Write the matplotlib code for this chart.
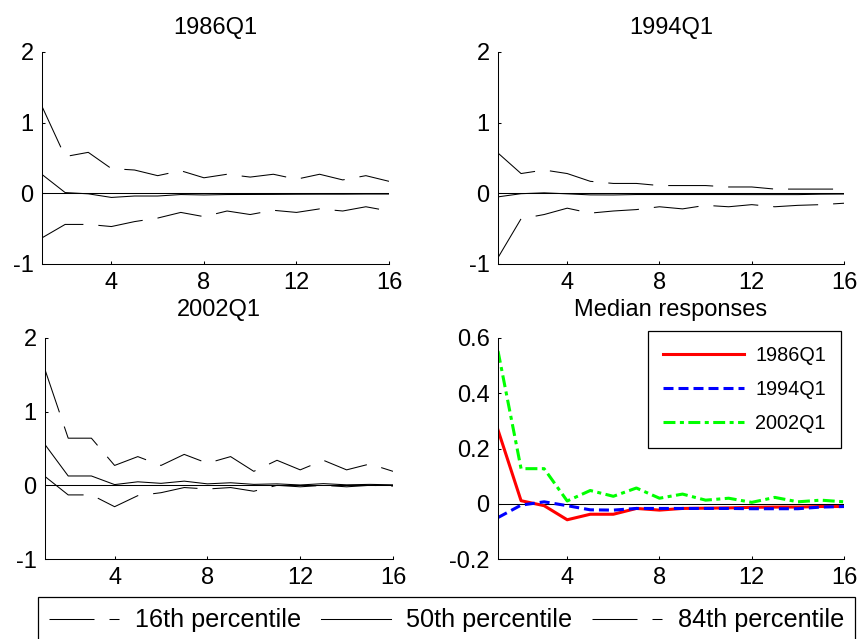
import matplotlib
matplotlib.use("Agg")
import matplotlib.pyplot as plt
from matplotlib.lines import Line2D
from matplotlib.ticker import FuncFormatter

plt.rcParams['font.family'] = ['Liberation Sans', 'DejaVu Sans']
plt.rcParams['axes.unicode_minus'] = False
plt.rcParams['lines.scale_dashes'] = False

# ---------------- data ----------------
horizon = list(range(1, 17))

upper_1986 = [1.23, 0.52, 0.58, 0.35, 0.33, 0.25, 0.32, 0.22, 0.27, 0.23, 0.27, 0.20, 0.27, 0.19, 0.25, 0.17]
lower_1986 = [-0.63, -0.44, -0.44, -0.47, -0.40, -0.35, -0.27, -0.33, -0.25, -0.30, -0.24, -0.27, -0.22, -0.25, -0.19, -0.25]
median_1986 = [0.267, 0.011, -0.007, -0.058, -0.038, -0.038, -0.017, -0.023, -0.017, -0.016, -0.015, -0.013, -0.012, -0.012, -0.010, -0.010]

upper_1994 = [0.57, 0.28, 0.33, 0.28, 0.17, 0.14, 0.14, 0.11, 0.11, 0.11, 0.09, 0.09, 0.06, 0.06, 0.06, 0.06]
lower_1994 = [-0.91, -0.36, -0.30, -0.21, -0.28, -0.25, -0.23, -0.19, -0.22, -0.17, -0.19, -0.16, -0.19, -0.17, -0.16, -0.14]
median_1994 = [-0.050, -0.005, 0.007, -0.007, -0.022, -0.023, -0.017, -0.017, -0.017, -0.017, -0.017, -0.018, -0.018, -0.018, -0.012, -0.010]

upper_2002 = [1.57, 0.64, 0.64, 0.27, 0.39, 0.27, 0.42, 0.30, 0.39, 0.19, 0.34, 0.21, 0.34, 0.21, 0.29, 0.19]
lower_2002 = [0.12, -0.13, -0.13, -0.29, -0.14, -0.10, -0.03, -0.05, -0.03, -0.08, 0.00, -0.02, 0.00, -0.02, 0.00, -0.01]
median_2002 = [0.553, 0.127, 0.127, 0.010, 0.048, 0.027, 0.057, 0.020, 0.035, 0.013, 0.020, 0.005, 0.023, 0.007, 0.013, 0.007]

panel_titles = ["1986Q1", "1994Q1", "2002Q1", "Median responses"]
band_labels = ["16th percentile", "50th percentile", "84th percentile"]
xticks = [4, 8, 12, 16]
yticks_band = [-1, 0, 1, 2]
yticks_median = [-0.2, 0, 0.2, 0.4, 0.6]

# ---------------- style ----------------
W, H = 859, 639
FS = 17
DASH = (0, (32.4, 10.8))
THIN = 0.75

fig = plt.figure(figsize=(W / 100, H / 100), dpi=100)

def ax_at(left, top, right, bottom):
    return fig.add_axes([left / W, 1 - bottom / H, (right - left) / W, (bottom - top) / H])

def style(ax, title, pad):
    for s in ("top", "right"):
        ax.spines[s].set_visible(False)
    for s in ("left", "bottom"):
        ax.spines[s].set_linewidth(0.75)
    ax.tick_params(direction="in", length=2.5, width=0.75, labelsize=FS, pad=6)
    ax.set_xlim(1, 16)
    ax.set_xticks(xticks)
    ax.set_title(title, fontsize=FS, pad=pad)
    ax.yaxis.set_major_formatter(FuncFormatter(lambda v, p: "%g" % round(v, 6)))

axes_pos = [(42, 52, 389, 264), (498, 52, 844, 264), (45, 338, 393, 559)]
bands = [(upper_1986, median_1986, lower_1986),
         (upper_1994, median_1994, lower_1994),
         (upper_2002, median_2002, lower_2002)]
pads = [13, 13, 16]

for pos, (up, med, lo), title, pad in zip(axes_pos, bands, panel_titles[:3], pads):
    ax = ax_at(*pos)
    ax.plot(horizon, [0] * len(horizon), color="black", lw=THIN)
    ax.plot(horizon, up, color="black", lw=THIN, linestyle=DASH)
    ax.plot(horizon, med, color="black", lw=THIN)
    ax.plot(horizon, lo, color="black", lw=THIN, linestyle=DASH)
    ax.set_ylim(-1, 2)
    ax.set_yticks(yticks_band)
    style(ax, title, pad)

ax4 = ax_at(498, 338, 844, 559)
ax4.plot(horizon, [0] * len(horizon), color="black", lw=THIN)
ax4.plot(horizon, median_1986, color="#ff0000", lw=2.2, label="1986Q1")
ax4.plot(horizon, median_1994, color="#0000ff", lw=2.2, linestyle=(0, (7.2, 3.6)), label="1994Q1")
ax4.plot(horizon, median_2002, color="#00ff00", lw=2.2, linestyle=(0, (8.6, 3.2, 2.9, 3.2)), label="2002Q1")
ax4.set_ylim(-0.2, 0.6)
ax4.set_yticks(yticks_median)
style(ax4, panel_titles[3], 16)
h4, l4 = ax4.get_legend_handles_labels()
leg4 = ax4.legend(h4[0:3], l4[0:3], loc="upper right", bbox_to_anchor=(841 / W, 1 - 331 / H),
                  bbox_transform=fig.transFigure, borderaxespad=0, fontsize=14.3,
                  handlelength=4.1, handletextpad=0.55, labelspacing=0.75, borderpad=0.75,
                  fancybox=False, framealpha=1, edgecolor="black")
leg4.get_frame().set_linewidth(0.9)

# bottom legend
handles = [Line2D([], [], color="black", lw=THIN, linestyle=DASH),
           Line2D([], [], color="black", lw=THIN),
           Line2D([], [], color="black", lw=THIN, linestyle=DASH)]
legb = fig.legend(handles, band_labels, loc="upper left", ncol=3,
                  bbox_to_anchor=(38 / W, 1 - 597 / H), bbox_transform=fig.transFigure,
                  borderaxespad=0, fontsize=18.2, handlelength=2.77, handletextpad=0.6,
                  columnspacing=0.8, borderpad=0.45, fancybox=False, framealpha=1,
                  edgecolor="black")
legb.get_frame().set_linewidth(0.9)

fig.savefig("out.png", dpi=100)
